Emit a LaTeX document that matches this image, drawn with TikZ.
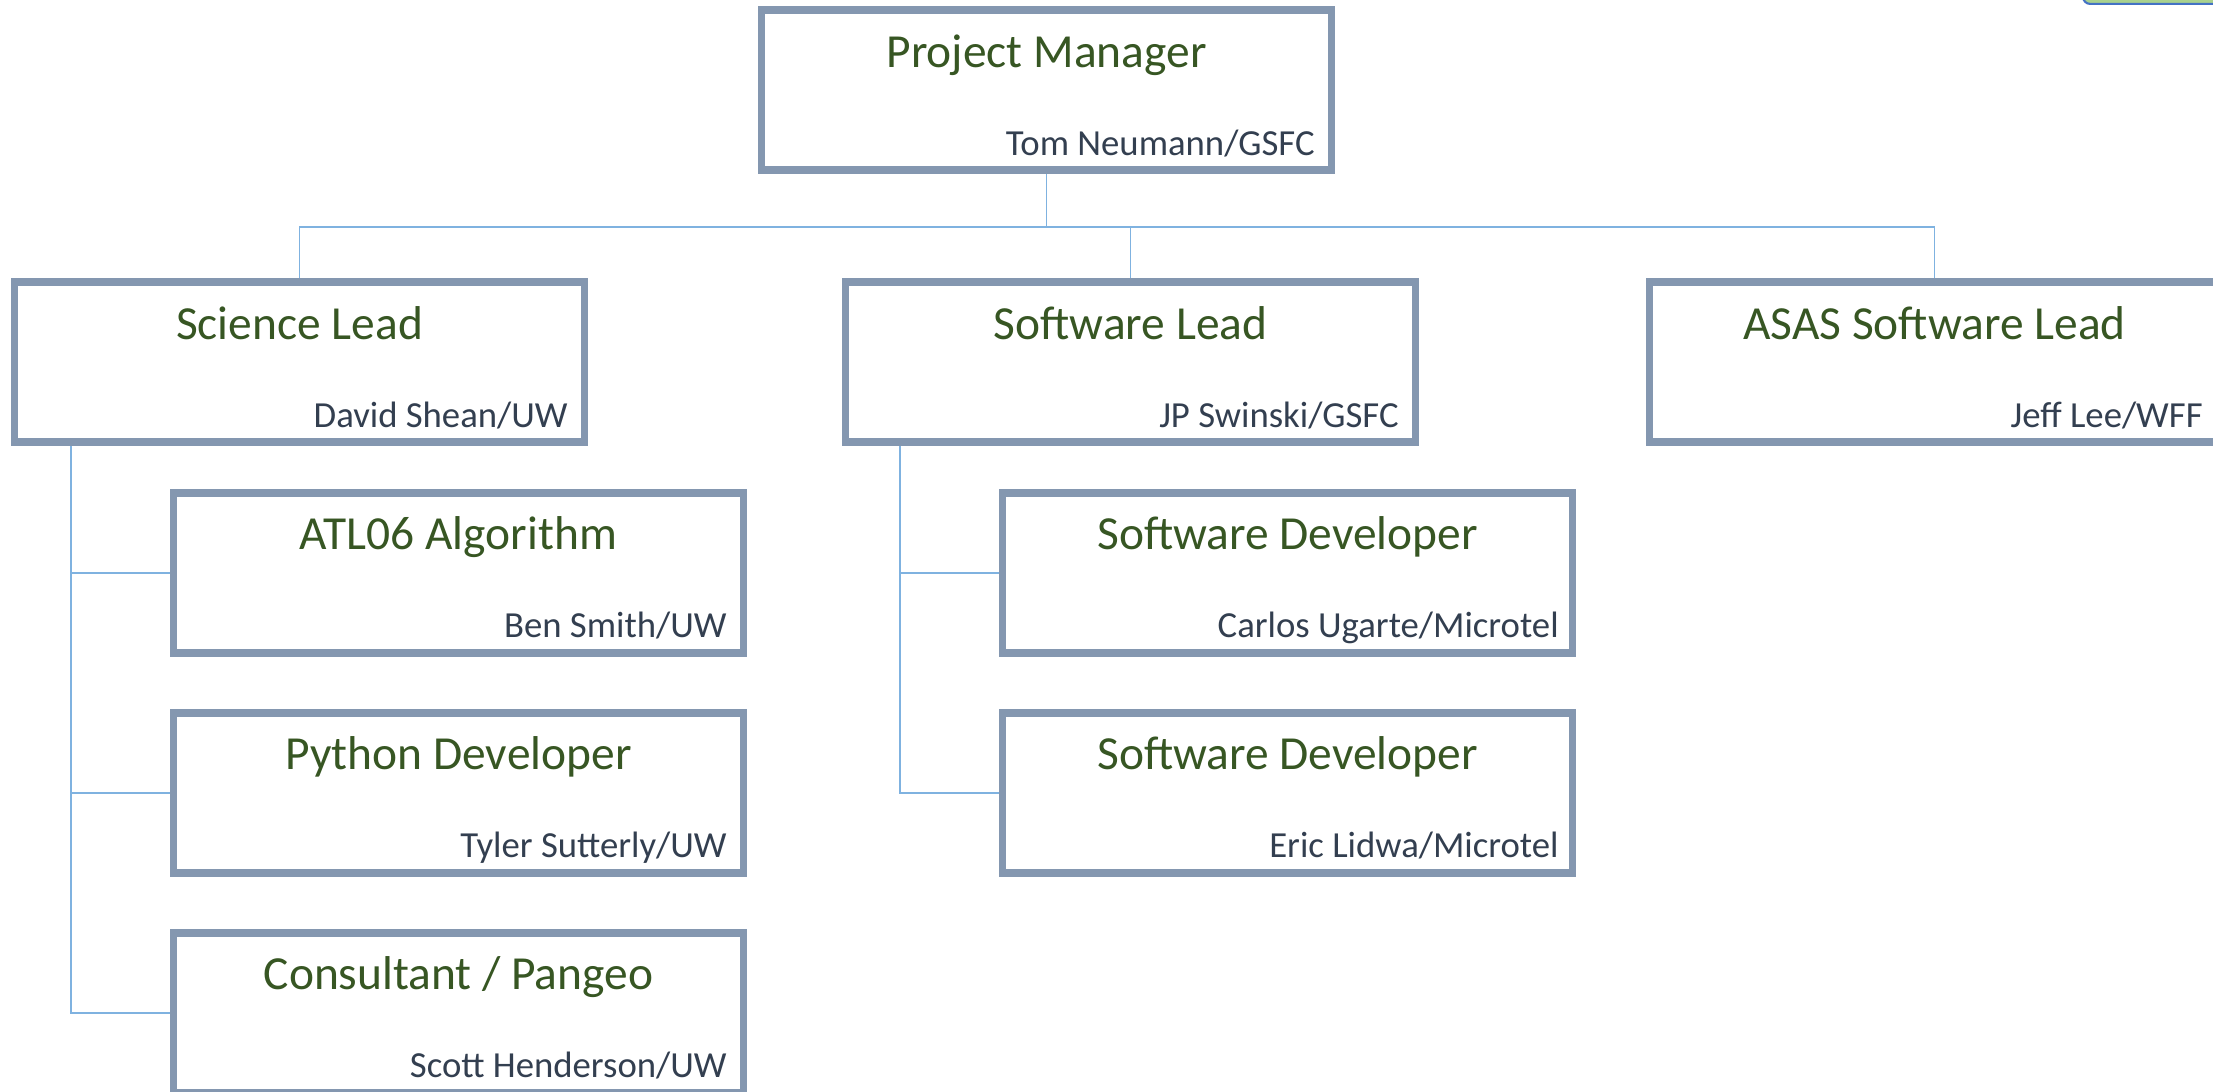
\documentclass[tikz,border=0pt]{standalone}
\usepackage{fontspec}
\setmainfont{Carlito}
\usepackage{xcolor}
\usetikzlibrary{positioning}

\definecolor{boxgray}{HTML}{8497B0}
\definecolor{linkblue}{HTML}{7FB2E0}
\definecolor{rolegreen}{HTML}{375623}
\definecolor{namenavy}{HTML}{333F50}
\definecolor{tabgreen}{HTML}{A9D18E}
\definecolor{tabblue}{HTML}{4472C4}

\begin{document}
\begin{tikzpicture} [
        node distance = 0.428cm,
        box/.style = {rectangle, draw=boxgray, line width=0.077cm, fill=white, minimum width=5.70cm, minimum height=1.60cm},
        role/.style = {anchor=base, inner sep=0pt, text=rolegreen, font=\fontsize{13.5}{16}\selectfont},
        who/.style = {anchor=base east, inner sep=0pt, text=namenavy, font=\fontsize{10.45}{12.5}\selectfont},
        link/.style = {draw=linkblue, line width=0.5pt}
    ]

    \clip (0,0) rectangle (22.13,-10.92);
    \fill[white] (0,0) rectangle (22.13,-10.92);

    % boxes
    \node[box] (pm) at (10.465,-0.9035) {};
    \node[box, below=1.043cm of pm, xshift=-7.47cm] (sci) {};
    \node[box, below=1.043cm of pm, xshift=0.84cm]  (sw) {};
    \node[box, below=1.043cm of pm, xshift=8.88cm]  (asas) {};
    \node[box, below=of sci, xshift=1.59cm] (atl) {};
    \node[box, below=0.523cm of atl] (py) {};
    \node[box, below=0.523cm of py]  (con) {};
    \node[box, below=of sw, xshift=1.57cm] (dev1) {};
    \node[box, below=0.523cm of dev1] (dev2) {};

    % edge of the next chart, cut off at the top
    \node[draw=tabblue, fill=tabgreen, line width=0.6pt, rounded corners=2pt, minimum width=2cm, minimum height=0.4cm, anchor=south west] (tab) at (20.82,-0.05) {};

    % roles and names
    \node[role] (pm-role)   at ([yshift=-0.61cm]pm.north)   {Project Manager};
    \node[who]  (pm-who)    at ([xshift=-0.2cm, yshift=0.19cm]pm.south east)   {Tom Neumann/GSFC};
    \node[role] (sci-role)  at ([yshift=-0.61cm]sci.north)  {Science Lead};
    \node[who]  (sci-who)   at ([xshift=-0.2cm, yshift=0.19cm]sci.south east)  {David Shean/UW};
    \node[role] (sw-role)   at ([yshift=-0.61cm]sw.north)   {Software Lead};
    \node[who]  (sw-who)    at ([xshift=-0.2cm, yshift=0.19cm]sw.south east)   {JP Swinski/GSFC};
    \node[role] (asas-role) at ([yshift=-0.61cm]asas.north) {ASAS Software Lead};
    \node[who]  (asas-who)  at ([xshift=-0.2cm, yshift=0.19cm]asas.south east) {Jeff Lee/WFF};
    \node[role] (atl-role)  at ([yshift=-0.61cm]atl.north)  {ATL06 Algorithm};
    \node[who]  (atl-who)   at ([xshift=-0.2cm, yshift=0.19cm]atl.south east)  {Ben Smith/UW};
    \node[role] (py-role)   at ([yshift=-0.61cm]py.north)   {Python Developer};
    \node[who]  (py-who)    at ([xshift=-0.2cm, yshift=0.19cm]py.south east)   {Tyler Sutterly/UW};
    \node[role] (con-role)  at ([yshift=-0.61cm]con.north)  {Consultant / Pangeo};
    \node[who]  (con-who)   at ([xshift=-0.2cm, yshift=0.19cm]con.south east)  {Scott Henderson/UW};
    \node[role] (dev1-role) at ([yshift=-0.61cm]dev1.north) {Software Developer};
    \node[who]  (dev1-who)  at ([xshift=-0.17cm, yshift=0.19cm]dev1.south east) {Carlos Ugarte/Microtel};
    \node[role] (dev2-role) at ([yshift=-0.61cm]dev2.north) {Software Developer};
    \node[who]  (dev2-who)  at ([xshift=-0.17cm, yshift=0.19cm]dev2.south east) {Eric Lidwa/Microtel};

    % connectors
    \draw[link] (pm.south) -- ++(0,-0.525) -| (sci.north);
    \draw[link] (pm.south) -- ++(0,-0.525) -| (sw.north);
    \draw[link] (pm.south) -- ++(0,-0.525) -| (asas.north);
    \draw[link] ([xshift=0.6cm]sci.south west) |- (atl.west);
    \draw[link] ([xshift=0.6cm]sci.south west) |- (py.west);
    \draw[link] ([xshift=0.6cm]sci.south west) |- (con.west);
    \draw[link] ([xshift=0.58cm]sw.south west) |- (dev1.west);
    \draw[link] ([xshift=0.58cm]sw.south west) |- (dev2.west);

\end{tikzpicture}
\end{document}
